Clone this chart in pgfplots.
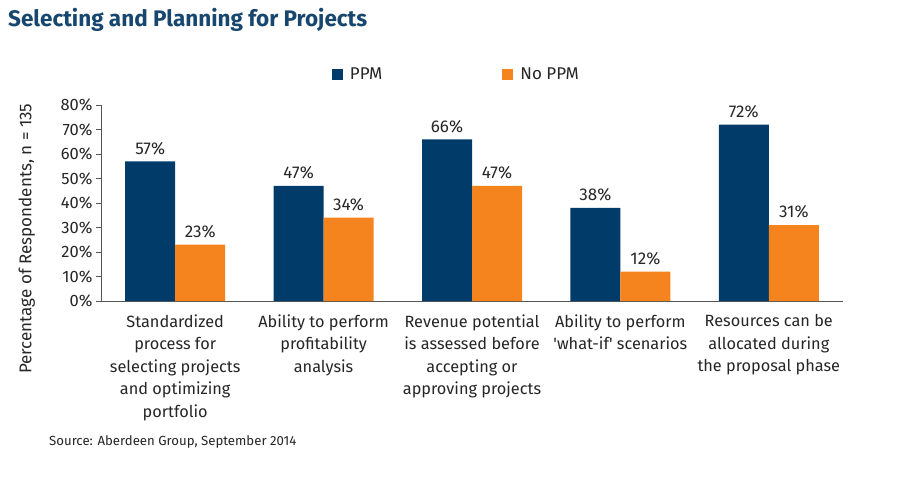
\documentclass[border=0pt]{standalone}
\usepackage{pgfplots}
\pgfplotsset{compat=1.18}
\usepackage{fontspec}
\setmainfont{Fira Sans}
\definecolor{ppm}{HTML}{003B6A}
\definecolor{noppm}{HTML}{F5841F}
\definecolor{ttl}{HTML}{17466F}
\definecolor{txt}{HTML}{262626}
\definecolor{axl}{HTML}{555555}
\begin{document}
\begin{tikzpicture}
\fill[white] (0pt,0pt) rectangle (900pt,480pt);
\node[anchor=base west, text=ttl, inner sep=0, font=\fontsize{22.5}{26}\selectfont\bfseries] at (8pt,453pt) {Selecting and Planning for Projects};
\node[anchor=base west, text=txt, inner sep=0, font=\fontsize{13.2}{16}\selectfont] at (49pt,35pt) {Source: Aberdeen Group, September 2014};
\begin{axis}[
  at={(101pt,179pt)}, anchor=south west,
  scale only axis, width=742pt, height=196pt,
  xmin=-0.5, xmax=4.5, ymin=0, ymax=80,
  ybar=0pt, bar width=50pt,
  axis x line*=bottom, axis y line*=left,
  axis line style={axl, line width=0.8pt},
  xtick=data,
  xticklabels={{Standardized\\process for\\selecting projects\\and optimizing\\portfolio},
               {Ability to perform\\profitability\\analysis},
               {Revenue potential\\is assessed before\\accepting or\\approving projects},
               {Ability to perform\\\textquotesingle what-if\textquotesingle{} scenarios},
               {Resources can be\\allocated during\\the proposal phase}},
  xtick style={draw=none},
  xticklabel style={align=center, text=txt, font=\fontsize{16.3}{22.5}\selectfont, yshift=-5pt},
  ytick={0,10,...,80},
  yticklabel={\pgfmathprintnumber{\tick}\%},
  yticklabel style={text=txt, font=\fontsize{16.5}{18}\selectfont},
  /pgf/number format/assume math mode=true,
  tick align=outside, major tick length=5pt,
  ytick style={axl, line width=0.8pt},
  ylabel={Percentage of Respondents, n = 135},
  ylabel style={at={(axis description cs:-0.1,0.318)}, anchor=center, text=txt, font=\fontsize{17}{20}\selectfont},
  nodes near coords={\pgfmathprintnumber{\pgfplotspointmeta}\%},
  nodes near coords style={text=txt, font=\fontsize{17}{20}\selectfont, inner sep=6.5pt},
  legend columns=2,
  legend style={at={(0.311,1.158)}, anchor=west, draw=none, fill=none, inner sep=0pt,
    font=\fontsize{17}{20}\selectfont, text=txt,
    /tikz/every odd column/.append style={column sep=5pt},
    /tikz/every even column/.append style={column sep=118pt}},
  legend image code/.code={\fill[#1] (0pt,-5.5pt) rectangle (11pt,5.5pt);},
  clip=false,
]
\addplot[fill=ppm, draw=none] coordinates {(0,57) (1,47) (2,66) (3,38) (4,72)};
\addplot[fill=noppm, draw=none] coordinates {(0,23) (1,34) (2,47) (3,12) (4,31)};
\legend{PPM, No PPM}
\end{axis}
\end{tikzpicture}
\end{document}
